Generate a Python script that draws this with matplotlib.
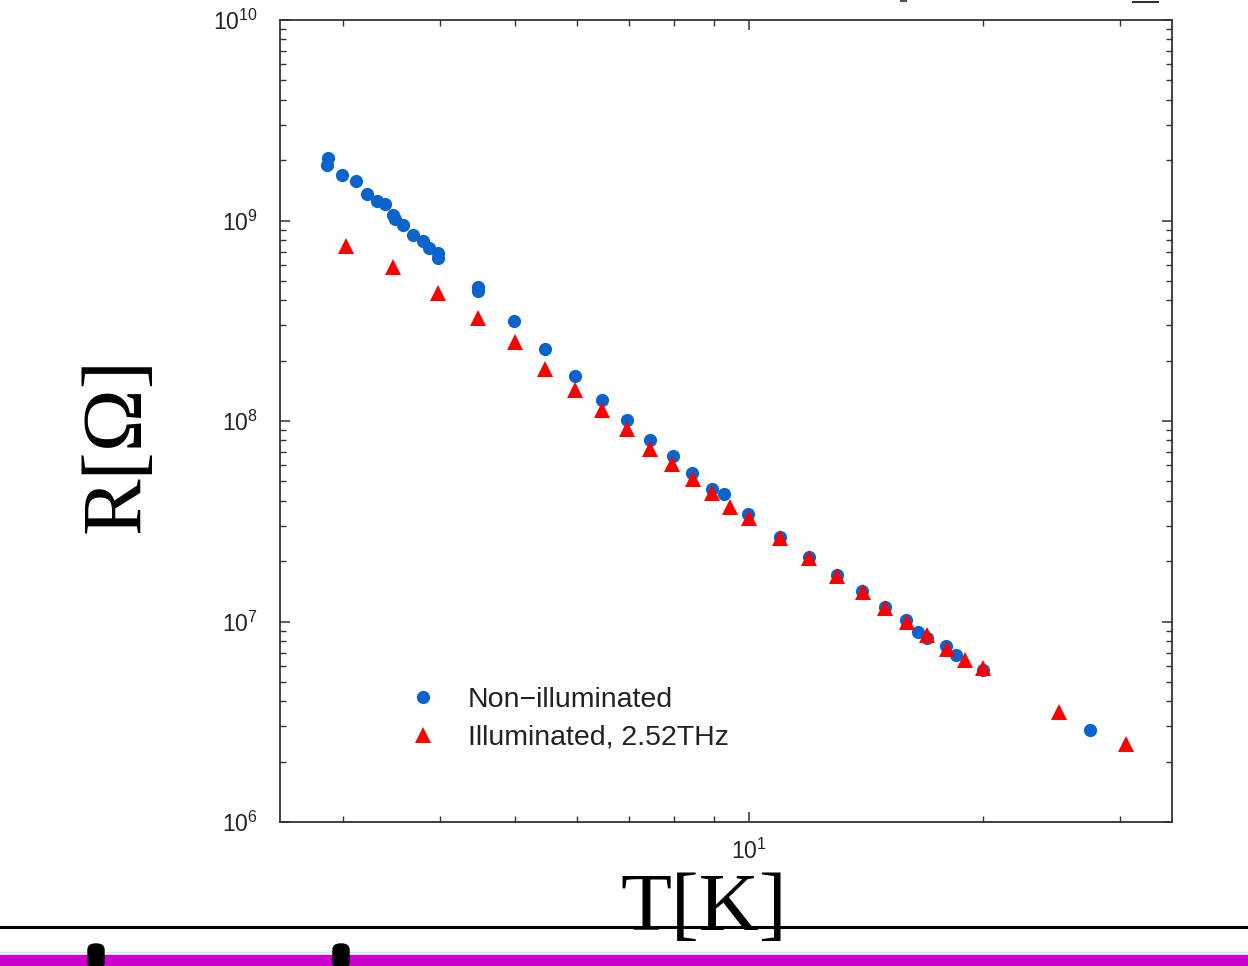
import numpy as np
import matplotlib
matplotlib.use("Agg")
import matplotlib.pyplot as plt
from matplotlib.ticker import FuncFormatter, NullFormatter, LogLocator
from matplotlib.patches import Rectangle, FancyBboxPatch
from matplotlib.lines import Line2D

plt.rcParams['font.family'] = ['Liberation Sans', 'DejaVu Sans']

# Non-illuminated sample (blue circles)
T_dark = [2.87, 2.86, 2.99, 3.12, 3.22, 3.32, 3.40, 3.48, 3.50, 3.59, 3.69,
          3.80, 3.87, 3.98, 3.98, 4.48, 4.48, 4.98, 5.46, 5.97, 6.47, 6.97,
          7.46, 7.99, 8.45, 8.96, 9.29, 9.97, 10.96, 11.95, 12.98, 13.98,
          14.96, 15.93, 16.50, 16.95, 17.93, 18.47, 20.0, 27.47]
R_dark = [2.05e9, 1.89e9, 1.69e9, 1.57e9, 1.36e9, 1.25e9, 1.21e9, 1.065e9,
          1.02e9, 9.5e8, 8.47e8, 7.9e8, 7.29e8, 6.88e8, 6.5e8, 4.65e8, 4.45e8,
          3.15e8, 2.29e8, 1.68e8, 1.27e8, 1.01e8, 8.04e7, 6.69e7, 5.5e7,
          4.58e7, 4.3e7, 3.44e7, 2.64e7, 2.10e7, 1.71e7, 1.42e7, 1.18e7,
          1.02e7, 8.86e6, 8.27e6, 7.55e6, 6.81e6, 5.73e6, 2.88e6]

# Illuminated at 2.52 THz (red triangles)
T_ill = [3.03, 3.48, 3.98, 4.48, 4.99, 5.46, 5.97, 6.47, 6.97, 7.46, 7.96,
         8.47, 8.96, 9.45, 10.0, 10.96, 11.95, 12.98, 14.0, 14.96, 15.97,
         16.95, 17.98, 18.95, 20.0, 25.06, 30.56]
R_ill = [7.46e8, 5.86e8, 4.35e8, 3.26e8, 2.48e8, 1.82e8, 1.43e8, 1.13e8,
         9.12e7, 7.25e7, 6.10e7, 5.14e7, 4.37e7, 3.72e7, 3.28e7, 2.61e7,
         2.07e7, 1.69e7, 1.40e7, 1.17e7, 9.94e6, 8.56e6, 7.29e6, 6.43e6,
         5.86e6, 3.54e6, 2.45e6]

labels = ['Non\u2212illuminated', 'Illuminated, 2.52THz']

W, H = 1248, 966
fig = plt.figure(figsize=(W / 100, H / 100), dpi=100)


def px(x0, y0, w, h):
    # pixel box (top-left origin) -> figure fraction rect
    return [x0 / W, 1 - (y0 + h) / H, w / W, h / H]


ax = fig.add_axes(px(280, 20, 892, 802))
ax.plot(T_dark, R_dark, 'o', color='#0a64cc', markersize=9.5, mew=0,
        label=labels[0], zorder=3)
ax.plot(T_ill, R_ill, '^', color='#ff0000', markersize=11, mew=0,
        label=labels[1], zorder=4)

ax.set_xscale('log')
ax.set_yscale('log')
ax.set_xlim(2.49, 35.0)
ax.set_ylim(1e6, 1e10)

fmt = FuncFormatter(lambda v, p: r'$\mathregular{10^{%d}}$' % round(np.log10(v)))
ax.xaxis.set_major_formatter(fmt)
ax.yaxis.set_major_formatter(fmt)
ax.xaxis.set_minor_formatter(NullFormatter())
ax.yaxis.set_major_locator(LogLocator(base=10, numticks=10))
ax.yaxis.set_minor_locator(LogLocator(base=10, subs=np.arange(2, 10), numticks=20))
ax.yaxis.set_minor_formatter(NullFormatter())

for s in ax.spines.values():
    s.set_color('#333333')
    s.set_linewidth(1.3)
ax.tick_params(which='both', direction='in', top=True, right=True,
               color='#333333', labelcolor='#222222', labelsize=16.5)
ax.tick_params(which='major', length=7, width=1.1)
ax.tick_params(which='minor', length=4, width=1.0)
ax.tick_params(axis='y', pad=16)
ax.tick_params(axis='x', pad=12)

ax.legend(loc='center left', bbox_to_anchor=((395 - 280) / 892, (822 - 719) / 802),
          frameon=False, fontsize=20.5, borderpad=0, borderaxespad=0,
          handlelength=2.0, handletextpad=0.55, labelspacing=0.42,
          numpoints=1, labelcolor='#222222')

# axis titles (serif, big, as on the slide)
fig.text(119 / W, 1 - 445 / H, 'R[\u03a9]', rotation=90, ha='center', va='center',
         family=['Liberation Serif', 'DejaVu Serif'], fontsize=61, zorder=5)
fig.text(704 / W, 1 - 910 / H, 'T[K]', ha='center', va='center',
         family=['Liberation Serif', 'DejaVu Serif'], fontsize=60, zorder=5)

# slide decorations below the chart
fig.add_artist(Line2D([0, 1], [1 - 927 / H] * 2, color='black', lw=2.2,
                      transform=fig.transFigure, zorder=1))
fig.add_artist(Line2D([0, 1], [1 - 952 / H] * 2, color='#bfeaf2', lw=1.0,
                      transform=fig.transFigure, zorder=1))
fig.add_artist(Rectangle(px(0, 955, W, 11)[:2], 1, 11 / H, color='#cc00cc',
                         transform=fig.transFigure, zorder=1))
for x0 in (88, 333):
    r = px(x0, 944, 16, 24)
    fig.add_artist(FancyBboxPatch((r[0], r[1]), r[2], r[3],
                                  boxstyle='round,pad=0,rounding_size=0.006',
                                  color='black', transform=fig.transFigure, zorder=2))

# cut-off text marks at the top edge
fig.add_artist(Line2D([1133 / W, 1158 / W], [1 - 1.5 / H] * 2, color='#333333',
                      lw=1.5, transform=fig.transFigure))
fig.add_artist(Line2D([901 / W, 906 / W], [1 - 1 / H] * 2, color='#555555',
                      lw=1.5, transform=fig.transFigure))

fig.savefig('out.png', dpi=100)
